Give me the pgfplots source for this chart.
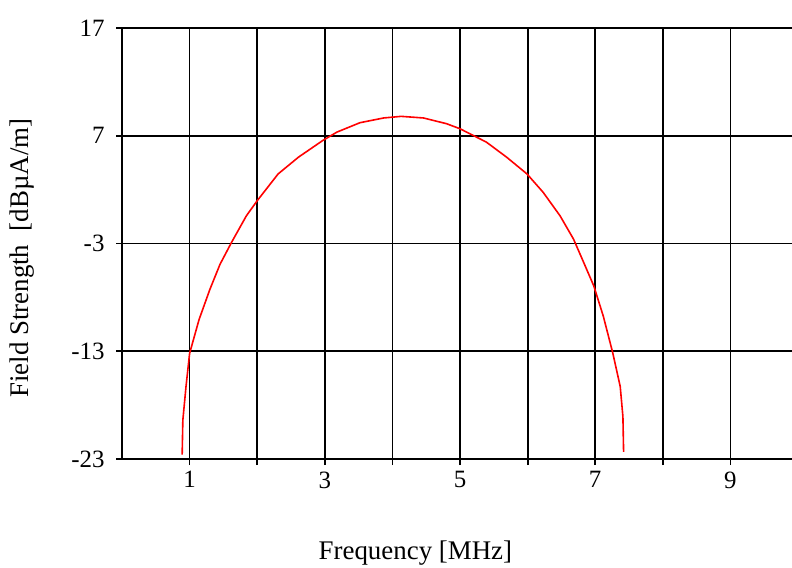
\documentclass[border=0pt]{standalone}
\usepackage{fontspec}
\setmainfont{Liberation Serif}
\usepackage{pgfplots}
\pgfplotsset{compat=1.18}
\begin{document}
\begin{tikzpicture}
\begin{axis}[
  at={(0,0)}, anchor=south west,
  scale only axis, width=676bp, height=431bp,
  xmin=0, xmax=10, ymin=-23, ymax=17,
  xtick={1,2,3,4,5,6,7,8,9},
  xticklabels={1,,3,,5,,7,,9},
  ytick={-23,-13,-3,7,17},
  yticklabels={-23,-13,-3,7,17},
  xtick pos=bottom, ytick pos=left,
  tick align=outside, major tick length=6bp,
  tick style={black, line width=1.8bp},
  grid=major,
  grid style={black, line width=1.8bp},
  axis line style={black, line width=2bp},
  /pgf/number format/assume math mode=true,
  ticklabel style={font=\fontsize{25}{30}\selectfont},
  xticklabel style={yshift=-3bp},
  yticklabel style={xshift=-8bp},
  every axis x label/.style={at={(axis description cs:0.434,-0.218)}, anchor=center, font=\fontsize{27}{32}\selectfont},
  every axis y label/.style={at={(axis description cs:-0.148,0.466)}, anchor=center, rotate=90, font=\fontsize{27}{32}\selectfont},
  xlabel={Frequency [MHz]},
  ylabel={Field Strength\ \ [dBµA/m]},
  clip=false,
]
\addplot[red, line width=1.6bp] coordinates {
(0.89,-22.6) (0.90,-19.4) (0.947,-16.27) (1.0,-13.2) (1.14,-10.06) (1.30,-7.26)
(1.45,-4.93) (1.62,-2.9) (1.84,-0.43) (2.0,0.97) (2.31,3.46) (2.61,5.01)
(2.97,6.56) (3.18,7.34) (3.52,8.21) (3.87,8.65) (4.13,8.8) (4.46,8.65)
(4.80,8.12) (5.0,7.65) (5.39,6.41) (5.69,5.01) (5.99,3.46) (6.23,1.75)
(6.48,-0.43) (6.68,-2.6) (6.82,-4.62) (6.98,-6.95) (7.12,-9.75) (7.26,-13.16)
(7.37,-16.27) (7.41,-19.07) (7.42,-22.33)
};
\end{axis}
\pgfresetboundingbox
\path (-122bp,-109bp) rectangle (670bp,459bp);
\end{tikzpicture}
\end{document}
